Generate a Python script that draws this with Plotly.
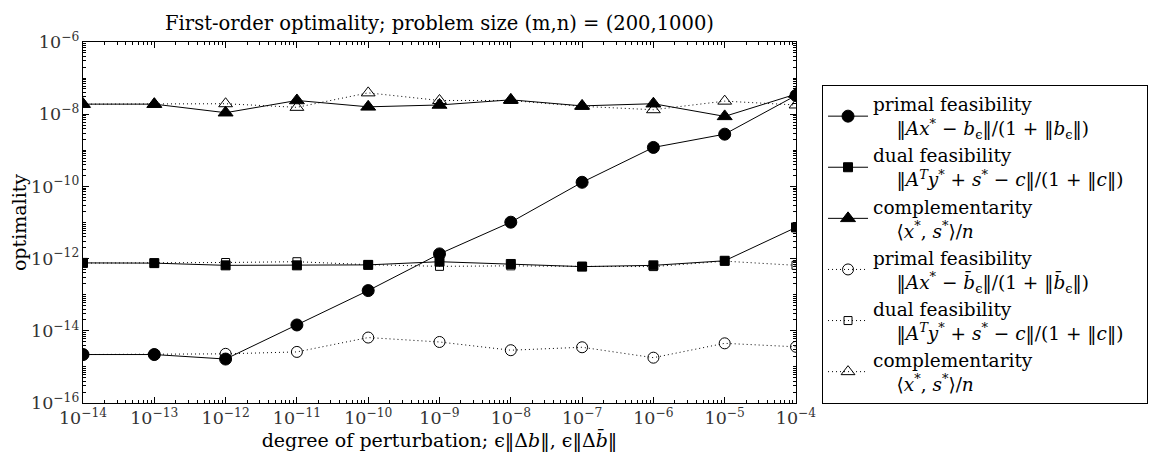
import plotly.graph_objects as go

# perturbation levels (x)
eps = [1e-14, 1e-13, 1e-12, 1e-11, 1e-10, 1e-9, 1e-8, 1e-7, 1e-6, 1e-5, 1e-4]

# solid series (b_eps)
primal = [2.2e-15, 2.2e-15, 1.65e-15, 1.45e-14, 1.3e-13, 1.35e-12, 1.02e-11, 1.3e-10, 1.2e-9, 2.8e-9, 3.3e-8]
dual = [7.6e-13, 7.5e-13, 6.5e-13, 6.5e-13, 6.7e-13, 8.2e-13, 7.1e-13, 6.0e-13, 6.5e-13, 8.7e-13, 7.3e-12]
comp = [1.9e-8, 1.9e-8, 1.1e-8, 2.4e-8, 1.6e-8, 1.8e-8, 2.5e-8, 1.7e-8, 1.95e-8, 8.7e-9, 3.6e-8]

# dotted series (b_bar_eps)
primal_bar = [2.2e-15, 2.2e-15, 2.3e-15, 2.6e-15, 6.5e-15, 4.9e-15, 2.9e-15, 3.5e-15, 1.8e-15, 4.5e-15, 3.6e-15]
dual_bar = [7.5e-13, 7.5e-13, 7.8e-13, 8.2e-13, 6.8e-13, 6.1e-13, 6.3e-13, 6.1e-13, 6.0e-13, 8.5e-13, 6.5e-13]
comp_bar = [1.9e-8, 1.9e-8, 1.95e-8, 1.55e-8, 3.9e-8, 2.4e-8, 2.4e-8, 1.65e-8, 1.33e-8, 2.3e-8, 1.8e-8]

IND = "&nbsp;&nbsp;&nbsp;&nbsp;"
PAD = "&nbsp;&nbsp;&nbsp;"
names = [
    "primal feasibility<br>" + IND + "‖<i>Ax</i><sup>*</sup> − <i>b</i><sub>ϵ</sub>‖/(1 + ‖<i>b</i><sub>ϵ</sub>‖)",
    "dual feasibility<br>" + IND + "‖<i>A</i><sup><i>T</i></sup><i>y</i><sup>*</sup> + <i>s</i><sup>*</sup> − <i>c</i>‖/(1 + ‖<i>c</i>‖)" + PAD,
    "complementarity<br>" + IND + "⟨<i>x</i><sup>*</sup>, <i>s</i><sup>*</sup>⟩/<i>n</i>",
    "primal feasibility<br>" + IND + "‖<i>Ax</i><sup>*</sup> − <i>b̄</i><sub>ϵ</sub>‖/(1 + ‖<i>b̄</i><sub>ϵ</sub>‖)",
    "dual feasibility<br>" + IND + "‖<i>A</i><sup><i>T</i></sup><i>y</i><sup>*</sup> + <i>s</i><sup>*</sup> − <i>c</i>‖/(1 + ‖<i>c</i>‖)" + PAD,
    "complementarity<br>" + IND + "⟨<i>x</i><sup>*</sup>, <i>s</i><sup>*</sup>⟩/<i>n</i>",
]

series = [primal, dual, comp, primal_bar, dual_bar, comp_bar]
symbols = ["circle", "square", "triangle-up", "circle-open", "square-open", "triangle-up-open"]
sizes = [12, 9, 13, 11, 8, 12]
dashes = ["solid", "solid", "solid", "1px,3px", "1px,3px", "1px,3px"]

fig = go.Figure()
for ys, nm, sym, sz, ds in zip(series, names, symbols, sizes, dashes):
    fig.add_trace(go.Scatter(
        x=eps, y=ys, name=nm, mode="lines+markers",
        line=dict(color="black", width=1, dash=ds),
        marker=dict(symbol=sym, size=sz, color="black", line=dict(color="black", width=1)),
    ))

FONT = "DejaVu Serif"
axis_common = dict(
    type="log", showgrid=False, zeroline=False, automargin=False,
    showline=True, linecolor="black", linewidth=1, mirror="allticks",
    ticks="inside", ticklen=6, tickcolor="black",
    exponentformat="power", tickfont=dict(family=FONT, size=14, color="#333"),
    minor=dict(ticks="inside", ticklen=3, tickcolor="black", dtick="D1"),
)

fig.update_layout(
    width=1158, height=453,
    margin=dict(l=75, r=370, t=34, b=58, autoexpand=False),
    paper_bgcolor="white", plot_bgcolor="white",
    font=dict(family=FONT, size=17, color="black"),
    title=dict(text="First-order optimality; problem size (m,n) = (200,1000)",
               x=0.5, xref="paper", xanchor="center", y=0.967, yanchor="middle",
               font=dict(family=FONT, size=19.5, color="black")),
    xaxis=dict(axis_common, range=[-14, -4], dtick=1,
               title=dict(text="degree of perturbation; ϵ‖Δ<i>b</i>‖, ϵ‖Δ<i>b̄</i>‖",
                          font=dict(family=FONT, size=19), standoff=4)),
    yaxis=dict(axis_common, range=[-16, -6], dtick=2,
               title=dict(text="optimality", font=dict(family=FONT, size=19), standoff=6)),
    showlegend=True,
    legend=dict(x=1.0365, y=0.882, xanchor="left", yanchor="top",
                bordercolor="black", borderwidth=1, bgcolor="white",
                font=dict(family=FONT, size=18.5, color="black"),
                tracegroupgap=0, valign="middle", itemwidth=40),
)

fig.write_html("out.html")
